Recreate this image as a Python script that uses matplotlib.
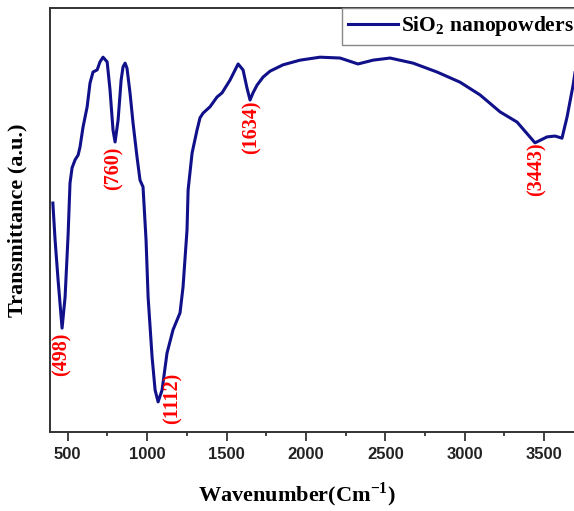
import matplotlib
matplotlib.use("Agg")
import matplotlib.pyplot as plt
from matplotlib.ticker import MultipleLocator, AutoMinorLocator

# FTIR spectrum of SiO2 nanopowders
wavenumber = [406, 420, 439, 464, 483, 502, 514, 527, 546, 565, 577, 596, 622,
              640, 659, 685, 703, 722, 748, 766, 785, 798, 817, 836, 848, 861,
              873, 892, 911, 936, 955, 974, 993, 1006, 1031, 1050, 1069, 1094,
              1125, 1163, 1207, 1226, 1251, 1258, 1283, 1314, 1333, 1352, 1396,
              1440, 1472, 1522, 1573, 1604, 1629, 1648, 1667, 1692, 1730, 1774,
              1856, 1963, 2089, 2215, 2328, 2423, 2530, 2675, 2826, 2971, 3097,
              3223, 3330, 3443, 3519, 3569, 3613, 3645, 3683, 3700]
transmittance = [54.0, 45.3, 35.8, 24.5, 31.8, 46.5, 58.7, 62.3, 64.2, 65.3,
                 67.2, 71.9, 76.7, 82.3, 84.9, 85.4, 87.3, 88.4, 87.3, 80.7,
                 71.2, 68.4, 73.6, 83.0, 86.1, 87.0, 85.8, 80.0, 72.9, 64.9,
                 59.4, 57.8, 45.3, 31.8, 17.7, 9.9, 7.1, 9.9, 18.6, 24.1, 28.1,
                 34.2, 47.6, 57.1, 65.8, 71.2, 74.1, 75.2, 76.7, 79.0, 80.0,
                 83.0, 86.8, 85.4, 81.1, 78.3, 80.0, 81.8, 83.7, 85.1, 86.6,
                 87.7, 88.4, 88.2, 86.8, 87.7, 88.2, 87.0, 84.9, 82.5, 79.5,
                 75.5, 73.1, 68.2, 69.6, 69.8, 69.3, 74.3, 81.8, 86.0]

# peak labels: text, x position, top of label
peak_labels = ["(498)", "(760)", "(1112)", "(1634)", "(3443)"]
peak_x = [464, 788, 1163, 1655, 3456]
peak_y = [23.5, 67.2, 13.9, 78.3, 68.2]

plt.rcParams["mathtext.fontset"] = "custom"
plt.rcParams["mathtext.rm"] = "Liberation Serif:bold"
plt.rcParams["mathtext.bf"] = "Liberation Serif:bold"

fig = plt.figure(figsize=(5.74, 5.11), dpi=100)
ax = fig.add_axes([50 / 574, 79 / 511, 525 / 574, 424 / 511])

ax.plot(wavenumber, transmittance, color="#10108a", lw=2.2,
        label=r"SiO$_\mathbf{2}$ nanopowders")

for txt, x, y in zip(peak_labels, peak_x, peak_y):
    ax.text(x, y, txt, rotation=90, ha="center", va="top", color="red",
            fontsize=14.5, fontweight="bold", family="Liberation Serif")

ax.set_xlim(388, 3695)
ax.set_ylim(0, 100)
ax.xaxis.set_major_locator(MultipleLocator(500))
ax.xaxis.set_minor_locator(AutoMinorLocator(2))
ax.set_yticks([])

for s in ax.spines.values():
    s.set_linewidth(1.4)
    s.set_color("#333333")

ax.tick_params(axis="x", which="major", direction="out", length=6.5,
               width=1.3, pad=4, colors="#333333", labelcolor="#222222")
ax.tick_params(axis="x", which="minor", direction="out", length=3.2,
               width=1.3, colors="#333333")
for lb in ax.get_xticklabels():
    lb.set_family("Liberation Sans")
    lb.set_fontweight("bold")
    lb.set_fontsize(12)

ax.set_xlabel(r"Wavenumber(Cm$^{\mathbf{-1}}$)", family="Liberation Serif",
              fontweight="bold", fontsize=16)
ax.xaxis.set_label_coords((297 - 50) / 525, -0.115)
ax.set_ylabel("Transmittance (a.u.)", family="Liberation Serif",
              fontweight="bold", fontsize=16)
ax.yaxis.set_label_coords(-0.043, 0.5)

leg = ax.legend(loc="upper left", bbox_to_anchor=((342 - 50) / 525, 1.0),
                borderaxespad=0, fancybox=False, framealpha=1,
                edgecolor="#888888", handlelength=2.3, handletextpad=0.15,
                borderpad=0.3,
                prop={"family": "Liberation Serif", "weight": "bold",
                      "size": 15.5})
leg.get_frame().set_linewidth(1.0)

fig.savefig("out.png", dpi=100)
